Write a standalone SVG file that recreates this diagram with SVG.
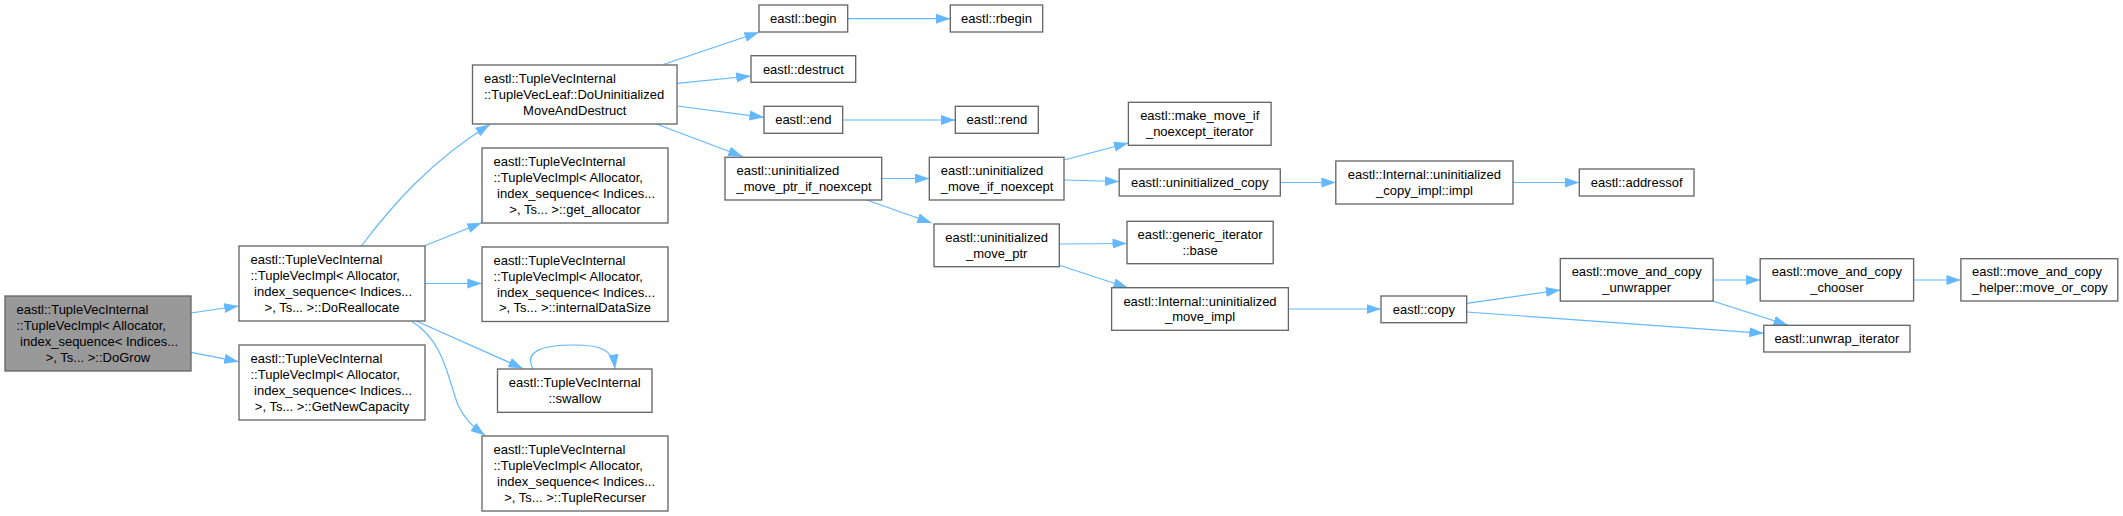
<svg xmlns="http://www.w3.org/2000/svg" width="2123" height="516" viewBox="0 0 2123 516">
<style>
rect.n{fill:#ffffff;stroke:#666666;stroke-width:1.33}
rect.root{fill:#999999;stroke:#666666;stroke-width:1.33}
text{font-family:"Liberation Sans",Arial,Helvetica,sans-serif;font-size:13px;fill:#000000}
text.c{text-anchor:middle}
text.l{text-anchor:start}
#edges path{fill:none;stroke:#63b8ff;stroke-width:1.2;marker-end:url(#ah)}
</style>
<defs>
<marker id="ah" markerUnits="userSpaceOnUse" markerWidth="15" markerHeight="11" refX="14.5" refY="5" orient="auto">
<path d="M0,0 L14.5,5 L0,10 z" fill="#63b8ff"/>
</marker>
</defs>
<rect width="2123" height="516" fill="#ffffff"/>
<g id="edges">
<path d="M191,313 L238.7,306"/>
<path d="M191,352.3 L238.7,361.7"/>
<path d="M361,246.5 C392,205 432,160 490,124.5"/>
<path d="M424.7,245.7 L481.8,222.7"/>
<path d="M424.7,283.5 L481.8,283.5"/>
<path d="M416.7,321.3 L523,368.5"/>
<path d="M411.7,321.3 C445,342 448,380 458,405 C464,418 472,426 485,435.5"/>
<path d="M663.3,64.5 L759,32.3"/>
<path d="M677.3,83.3 L750.7,76"/>
<path d="M677.3,106 L764,117.3"/>
<path d="M657,124.3 L742.7,156.5"/>
<path d="M847.7,18.7 L950.3,18.7"/>
<path d="M842.7,120 L955.3,120"/>
<path d="M881.7,178.5 L929.3,178.5"/>
<path d="M866.7,200 L931.7,223"/>
<path d="M1064,160 L1128.4,143"/>
<path d="M1064,180 L1119.2,181.5"/>
<path d="M1280.3,182.5 L1335.8,182.5"/>
<path d="M1513,182.5 L1579.3,182.5"/>
<path d="M1059.3,244 L1127,243.5"/>
<path d="M1059.3,265.3 L1128,287.7"/>
<path d="M1288.4,309 L1381,309"/>
<path d="M1466.7,303.3 L1560.3,290"/>
<path d="M1466.7,312 L1763.8,333.3"/>
<path d="M1713,280 L1760.2,280"/>
<path d="M1712.6,301 L1788,325.3"/>
<path d="M1913.6,280 L1960.9,280"/>
<path d="M533,369 C524,352 540,345 574,345 C600,345 613,349 615,369"/>
</g>
<g id="node_DoGrow">
<rect class="root" x="5" y="296" width="186" height="75"/>
<text class="l" x="16.5" y="314.3">eastl::TupleVecInternal</text>
<text class="l" x="16.5" y="330.1">::TupleVecImpl&lt; Allocator,</text>
<text class="l" x="20.1" y="345.9">index_sequence&lt; Indices...</text>
<text class="c" x="98" y="361.7">&gt;, Ts... &gt;::DoGrow</text>
</g>
<g id="node_DoReallocate">
<rect class="n" x="239" y="246" width="186" height="75"/>
<text class="l" x="250.5" y="264.3">eastl::TupleVecInternal</text>
<text class="l" x="250.5" y="280.1">::TupleVecImpl&lt; Allocator,</text>
<text class="l" x="254.1" y="295.9">index_sequence&lt; Indices...</text>
<text class="c" x="332" y="311.7">&gt;, Ts... &gt;::DoReallocate</text>
</g>
<g id="node_GetNewCapacity">
<rect class="n" x="239" y="345" width="186" height="75"/>
<text class="l" x="250.5" y="363.3">eastl::TupleVecInternal</text>
<text class="l" x="250.5" y="379.1">::TupleVecImpl&lt; Allocator,</text>
<text class="l" x="254.1" y="394.9">index_sequence&lt; Indices...</text>
<text class="c" x="332" y="410.7">&gt;, Ts... &gt;::GetNewCapacity</text>
</g>
<g id="node_DoUninitializedMoveAndDestruct">
<rect class="n" x="472.5" y="65" width="204.5" height="59"/>
<text class="l" x="484" y="83.2">eastl::TupleVecInternal</text>
<text class="l" x="484" y="99">::TupleVecLeaf::DoUninitialized</text>
<text class="c" x="574.75" y="114.8">MoveAndDestruct</text>
</g>
<g id="node_get_allocator">
<rect class="n" x="482" y="148" width="186" height="75"/>
<text class="l" x="493.5" y="166.3">eastl::TupleVecInternal</text>
<text class="l" x="493.5" y="182.1">::TupleVecImpl&lt; Allocator,</text>
<text class="l" x="497.1" y="197.9">index_sequence&lt; Indices...</text>
<text class="c" x="575" y="213.7">&gt;, Ts... &gt;::get_allocator</text>
</g>
<g id="node_internalDataSize">
<rect class="n" x="482" y="247" width="186" height="74.5"/>
<text class="l" x="493.5" y="265.05">eastl::TupleVecInternal</text>
<text class="l" x="493.5" y="280.85">::TupleVecImpl&lt; Allocator,</text>
<text class="l" x="497.1" y="296.65">index_sequence&lt; Indices...</text>
<text class="c" x="575" y="312.45">&gt;, Ts... &gt;::internalDataSize</text>
</g>
<g id="node_swallow">
<rect class="n" x="497.5" y="369" width="154.5" height="43.3"/>
<text class="c" x="574.75" y="387.25">eastl::TupleVecInternal</text>
<text class="c" x="574.75" y="403.05">::swallow</text>
</g>
<g id="node_TupleRecurser">
<rect class="n" x="482" y="436" width="186" height="75"/>
<text class="l" x="493.5" y="454.3">eastl::TupleVecInternal</text>
<text class="l" x="493.5" y="470.1">::TupleVecImpl&lt; Allocator,</text>
<text class="l" x="497.1" y="485.9">index_sequence&lt; Indices...</text>
<text class="c" x="575" y="501.7">&gt;, Ts... &gt;::TupleRecurser</text>
</g>
<g id="node_begin">
<rect class="n" x="759" y="5" width="88.7" height="27"/>
<text class="c" x="803.35" y="23">eastl::begin</text>
</g>
<g id="node_rbegin">
<rect class="n" x="950.3" y="5" width="92.4" height="27"/>
<text class="c" x="996.5" y="23">eastl::rbegin</text>
</g>
<g id="node_destruct">
<rect class="n" x="751" y="55.7" width="104.7" height="26.6"/>
<text class="c" x="803.35" y="73.5">eastl::destruct</text>
</g>
<g id="node_end">
<rect class="n" x="764" y="106.3" width="78.7" height="27"/>
<text class="c" x="803.35" y="124.3">eastl::end</text>
</g>
<g id="node_rend">
<rect class="n" x="955.3" y="106.3" width="83" height="27"/>
<text class="c" x="996.8" y="124.3">eastl::rend</text>
</g>
<g id="node_uninitialized_move_ptr_if_noexcept">
<rect class="n" x="725" y="157.3" width="156.7" height="42.7"/>
<text class="l" x="736.5" y="175.25">eastl::uninitialized</text>
<text class="l" x="736.5" y="191.05">_move_ptr_if_noexcept</text>
</g>
<g id="node_uninitialized_move_if_noexcept">
<rect class="n" x="929.3" y="157.3" width="134.7" height="42.7"/>
<text class="l" x="940.7" y="175.25">eastl::uninitialized</text>
<text class="l" x="940.7" y="191.05">_move_if_noexcept</text>
</g>
<g id="node_uninitialized_move_ptr">
<rect class="n" x="934" y="224" width="125.3" height="42.7"/>
<text class="c" x="996.65" y="241.95">eastl::uninitialized</text>
<text class="c" x="996.65" y="257.75">_move_ptr</text>
</g>
<g id="node_make_move_if_noexcept_iterator">
<rect class="n" x="1128.4" y="102.3" width="142.7" height="43"/>
<text class="c" x="1199.75" y="120.4">eastl::make_move_if</text>
<text class="c" x="1199.75" y="136.2">_noexcept_iterator</text>
</g>
<g id="node_uninitialized_copy">
<rect class="n" x="1119.2" y="169" width="161.1" height="27"/>
<text class="c" x="1199.75" y="187">eastl::uninitialized_copy</text>
</g>
<g id="node_uninitialized_copy_impl">
<rect class="n" x="1335.8" y="161" width="177.2" height="43"/>
<text class="c" x="1424.4" y="179.1">eastl::Internal::uninitialized</text>
<text class="c" x="1424.4" y="194.9">_copy_impl::impl</text>
</g>
<g id="node_addressof">
<rect class="n" x="1579.3" y="169" width="114.7" height="27"/>
<text class="c" x="1636.65" y="187">eastl::addressof</text>
</g>
<g id="node_generic_iterator_base">
<rect class="n" x="1127" y="221.3" width="146.2" height="42.4"/>
<text class="c" x="1200.1" y="239.1">eastl::generic_iterator</text>
<text class="c" x="1200.1" y="254.9">::base</text>
</g>
<g id="node_uninitialized_move_impl">
<rect class="n" x="1111.6" y="287.7" width="176.8" height="42.6"/>
<text class="c" x="1200" y="305.6">eastl::Internal::uninitialized</text>
<text class="c" x="1200" y="321.4">_move_impl</text>
</g>
<g id="node_copy">
<rect class="n" x="1381" y="296" width="85.7" height="26.7"/>
<text class="c" x="1423.85" y="313.85">eastl::copy</text>
</g>
<g id="node_move_and_copy_unwrapper">
<rect class="n" x="1560.3" y="258.5" width="152.8" height="42.6"/>
<text class="c" x="1636.7" y="276.4">eastl::move_and_copy</text>
<text class="c" x="1636.7" y="292.2">_unwrapper</text>
</g>
<g id="node_move_and_copy_chooser">
<rect class="n" x="1760.2" y="258.7" width="153.4" height="42.3"/>
<text class="c" x="1836.9" y="276.45">eastl::move_and_copy</text>
<text class="c" x="1836.9" y="292.25">_chooser</text>
</g>
<g id="node_move_and_copy_helper">
<rect class="n" x="1960.9" y="258.7" width="156.9" height="42.3"/>
<text class="l" x="1972" y="276.45">eastl::move_and_copy</text>
<text class="l" x="1972" y="292.25">_helper::move_or_copy</text>
</g>
<g id="node_unwrap_iterator">
<rect class="n" x="1763.8" y="325.3" width="146.2" height="26.7"/>
<text class="c" x="1836.9" y="343.15">eastl::unwrap_iterator</text>
</g>
</svg>
